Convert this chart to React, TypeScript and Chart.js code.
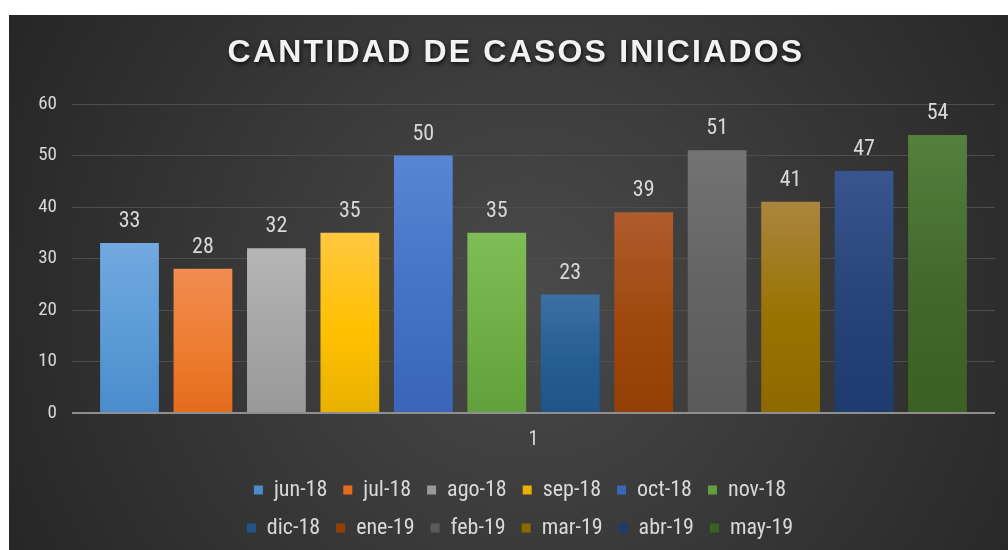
import { useEffect, useRef } from "react";
import { Chart, registerables } from "chart.js";

Chart.register(...registerables);

const TITLE = "CANTIDAD DE CASOS INICIADOS";
const categories = ["1"];
const seriesLabels = ["jun-18", "jul-18", "ago-18", "sep-18", "oct-18", "nov-18", "dic-18", "ene-19", "feb-19", "mar-19", "abr-19", "may-19"];
const seriesValues = [33, 28, 32, 35, 50, 35, 23, 39, 51, 41, 47, 54];
const yMax = 60;
const yStep = 10;

const baseColors = ["#5b9bd5", "#ed7d31", "#a5a5a5", "#ffc000", "#4472c4", "#70ad47", "#255e91", "#9e480e", "#636363", "#997300", "#264478", "#43682b"];
const topColors = ["#72a9e0", "#f18c52", "#b6b6b6", "#ffc840", "#5885d5", "#7fbd57", "#3c70a4", "#b05c2d", "#737373", "#aa853f", "#39558f", "#54803d"];
const bottomColors = ["#4a8bcd", "#e46c1c", "#999999", "#e8b100", "#3a65b8", "#61a03a", "#1f5488", "#943f05", "#5a5a5a", "#8e6900", "#1d3b6f", "#3a6121"];

const NARROW = "'Roboto Condensed', 'Liberation Sans', Arial, sans-serif";
const REGULAR = "'Liberation Sans', Arial, sans-serif";
const TEXT = "#d9d9d9";
const LEGEND_WRAP = 615;
const LEGEND_CENTER = 511;

const bgPlugin = {
  id: "bgPlugin",
  beforeDraw(chart: any) {
    const { ctx, width, height } = chart;
    ctx.save();
    const cx = width * 0.52;
    const cy = height * 0.52;
    const g = ctx.createRadialGradient(cx, cy, 0, cx, cy, width * 0.62);
    g.addColorStop(0, "#4a4a4a");
    g.addColorStop(1, "#242424");
    ctx.fillStyle = g;
    ctx.fillRect(0, 0, width, height);
    ctx.restore();
  },
};

const titlePlugin = {
  id: "titlePlugin",
  afterDraw(chart: any) {
    const { ctx } = chart;
    ctx.save();
    ctx.font = `bold 32px ${REGULAR}`;
    try { (ctx as any).letterSpacing = "2.2px"; } catch (e) {}
    ctx.textAlign = "center";
    ctx.textBaseline = "middle";
    ctx.shadowColor = "rgba(0,0,0,0.75)";
    ctx.shadowBlur = 4;
    ctx.shadowOffsetX = 1;
    ctx.shadowOffsetY = 2;
    ctx.fillStyle = "#f2f2f2";
    ctx.fillText(TITLE, 507, 38);
    ctx.restore();
  },
};

const valueLabelPlugin = {
  id: "valueLabelPlugin",
  afterDatasetsDraw(chart: any) {
    const { ctx } = chart;
    ctx.save();
    ctx.font = `22px ${NARROW}`;
    ctx.fillStyle = TEXT;
    ctx.textAlign = "center";
    ctx.textBaseline = "alphabetic";
    chart.data.datasets.forEach((ds: any, i: number) => {
      const meta = chart.getDatasetMeta(i);
      meta.data.forEach((bar: any, j: number) => {
        ctx.fillText(String(ds.data[j]), bar.x, bar.y - 16);
      });
    });
    ctx.restore();
  },
};

const legendWrapPlugin = {
  id: "legendWrapPlugin",
  beforeLayout(chart: any) {
    const lg = chart.legend;
    if (lg && !lg.__wrapPatched) {
      const orig = lg.update.bind(lg);
      lg.update = (w: number, h: number, m: any) => orig(Math.min(w, LEGEND_WRAP), h, m);
      lg.__wrapPatched = true;
    }
  },
  afterLayout(chart: any) {
    const lg = chart.legend;
    if (!lg) return;
    lg.left = LEGEND_CENTER - LEGEND_WRAP / 2;
    lg.right = LEGEND_CENTER + LEGEND_WRAP / 2;
    lg.width = LEGEND_WRAP;
  },
};

export default function App() {
  const ref = useRef<HTMLCanvasElement | null>(null);

  useEffect(() => {
    if (!ref.current) return;
    const datasets = seriesLabels.map((label, i) => ({
      label,
      data: [seriesValues[i]],
      backgroundColor: (c: any) => {
        if (c.type !== "data" || !c.chart.chartArea) return baseColors[i];
        const ys = c.chart.scales.y;
        const top = ys.getPixelForValue(c.raw);
        const bottom = ys.getPixelForValue(0);
        if (!isFinite(top) || !isFinite(bottom) || top === bottom) return baseColors[i];
        const g = c.chart.ctx.createLinearGradient(0, top, 0, bottom);
        g.addColorStop(0, topColors[i]);
        g.addColorStop(0.55, baseColors[i]);
        g.addColorStop(1, bottomColors[i]);
        return g;
      },
      borderWidth: 0,
      categoryPercentage: 0.955,
      barPercentage: 0.8,
    }));

    const chart = new Chart(ref.current, {
      type: "bar",
      data: { labels: categories, datasets },
      plugins: [bgPlugin, titlePlugin, valueLabelPlugin, legendWrapPlugin],
      options: {
        animation: false,
        responsive: true,
        maintainAspectRatio: false,
        layout: { padding: { left: 8, right: 13, top: 89, bottom: 1 } },
        plugins: {
          title: { display: false },
          tooltip: { enabled: false },
          legend: {
            display: true,
            position: "bottom",
            labels: {
              boxWidth: 9,
              boxHeight: 9,
              padding: 16,
              color: TEXT,
              font: { family: NARROW, size: 22 },
            },
          },
        },
        scales: {
          x: {
            grid: { display: false, drawTicks: false },
            border: { display: false },
            ticks: { color: TEXT, padding: 15, font: { family: NARROW, size: 20 } },
            afterFit: (s: any) => { s.height = 50; },
          },
          y: {
            min: 0,
            max: yMax,
            ticks: { stepSize: yStep, color: TEXT, padding: 15, font: { family: NARROW, size: 19 } },
            grid: {
              drawTicks: false,
              color: (c: any) => (c.tick && c.tick.value === 0 ? "#8f8f8f" : "#4e4e4e"),
              lineWidth: (c: any) => (c.tick && c.tick.value === 0 ? 2 : 1),
            },
            border: { display: false },
            afterFit: (s: any) => { s.width = 55; },
          },
        },
      },
    });
    return () => chart.destroy();
  }, []);

  return (
    <div style={{ position: "absolute", left: 9, top: 15, width: 999, height: 535 }}>
      <canvas ref={ref} />
    </div>
  );
}
